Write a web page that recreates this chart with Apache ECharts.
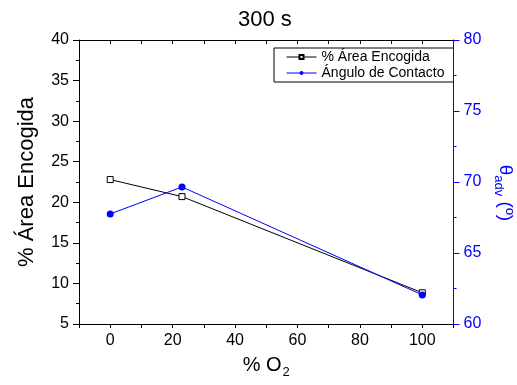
<!DOCTYPE html>
<html><head><meta charset="utf-8">
<script src="https://cdn.jsdelivr.net/npm/echarts@6/dist/echarts.min.js"></script>
<style>html,body{margin:0;padding:0;background:#fff}#c{width:517px;height:385px}</style>
</head><body><div id="c"></div>
<script>
// ---- data ----
const oxygenPct = [0, 23, 100];
const areaShrunk = [22.8, 20.7, 8.85];
const contactAngle = [67.75, 69.65, 62.05];
const xRange = [-10, 110];
const xLabelStep = 20;
const leftRange = [5, 40];
const rightRange = [60, 80];
const seriesNames = ['% Área Encogida', 'Ángulo de Contacto'];

// ---- layout ----
const FONT = "'Liberation Sans', Arial, Helvetica, sans-serif";
const L = 79, R = 453.5, T = 40, B = 324, CW = 517, CH = 385;
const BLUE = '#0000ff';

const chart = echarts.init(document.getElementById('c'), null, {renderer: 'canvas'});
chart.setOption({
  animation: false,
  backgroundColor: '#fff',
  textStyle: {fontFamily: FONT},
  title: {
    text: '300 s', left: 238, top: 9, padding: 0,
    textStyle: {fontSize: 22, fontWeight: 'normal', color: '#000', fontFamily: FONT}
  },
  legend: {
    orient: 'vertical', right: CW - R, top: 48,
    padding: [2, 9, 2, 12], itemGap: 2, itemWidth: 30, itemHeight: 5,
    borderColor: '#000', borderWidth: 1, backgroundColor: '#fff',
    lineStyle: {width: 1},
    textStyle: {fontSize: 14, color: '#000', fontFamily: FONT},
    data: seriesNames
  },
  grid: {left: L, right: CW - R, top: T, bottom: CH - B, outerBoundsMode: 'none'},
  graphic: [
    {type: 'rect', z: 100, silent: true,
     shape: {x: L + 0.5, y: T + 0.5, width: Math.round(R - L) - 1, height: B - T},
     style: {fill: 'none', stroke: '#000', lineWidth: 1}},
    {type: 'line', z: 101, silent: true,
     shape: {x1: Math.round(R) - 0.5, y1: T, x2: Math.round(R) - 0.5, y2: B + 1},
     style: {stroke: BLUE, lineWidth: 1}}
  ],
  xAxis: [
    {
      type: 'value', min: xRange[0], max: xRange[1], interval: 10, position: 'bottom',
      splitLine: {show: false},
      axisLine: {show: true, onZero: false, lineStyle: {color: '#000', width: 1}},
      axisTick: {show: true, length: 4, lineStyle: {color: '#000'}},
      axisLabel: {fontSize: 16, color: '#000', margin: 9, fontFamily: FONT,
        formatter: v => (v % xLabelStep === 0 ? String(v) : '')},
      name: '% O{sub|2}', nameLocation: 'middle', nameGap: 28,
      nameTextStyle: {fontSize: 20, color: '#000', fontFamily: FONT,
        rich: {sub: {fontSize: 13, color: '#000', fontFamily: FONT, padding: [14, 0, 0, 1]}}}
    },
    {
      type: 'value', min: xRange[0], max: xRange[1], interval: 10, position: 'top',
      splitLine: {show: false},
      axisLine: {show: true, onZero: false, lineStyle: {color: '#000', width: 1}},
      axisTick: {show: true, inside: true, length: 4, lineStyle: {color: '#000'}},
      axisLabel: {show: false}
    }
  ],
  yAxis: [
    {
      type: 'value', position: 'left', min: leftRange[0], max: leftRange[1], interval: 5,
      splitLine: {show: false},
      axisLine: {show: true, onZero: false, lineStyle: {color: '#000', width: 1}},
      axisTick: {show: true, length: 6, lineStyle: {color: '#000'}},
      minorTick: {show: true, splitNumber: 2, length: 3, lineStyle: {color: '#000'}},
      axisLabel: {fontSize: 16, color: '#000', margin: 10, fontFamily: FONT},
      name: seriesNames[0], nameLocation: 'middle', nameGap: 41,
      nameTextStyle: {fontSize: 22, color: '#000', fontFamily: FONT}
    },
    {
      type: 'value', position: 'right', min: rightRange[0], max: rightRange[1], interval: 5,
      splitLine: {show: false},
      axisLine: {show: true, onZero: false, lineStyle: {color: BLUE, width: 1}},
      axisTick: {show: true, length: 6, lineStyle: {color: BLUE}},
      minorTick: {show: true, splitNumber: 2, length: 3, lineStyle: {color: BLUE}},
      axisLabel: {fontSize: 16, color: BLUE, margin: 10, fontFamily: FONT},
      name: '{t|θ}{sub|adv}{t| (º)}', nameLocation: 'middle', nameGap: 39, nameRotate: -90,
      nameTextStyle: {color: BLUE, fontFamily: FONT, padding: [0, 0, 0, 22],
        rich: {
          t: {fontSize: 19, color: BLUE, fontFamily: FONT},
          sub: {fontSize: 13, color: BLUE, fontFamily: FONT, padding: [12, 0, 0, 0]}
        }}
    }
  ],
  series: [
    {
      name: seriesNames[0], type: 'line', xAxisIndex: 0, yAxisIndex: 0,
      data: oxygenPct.map((x, i) => [x, areaShrunk[i]]),
      symbol: 'rect', symbolSize: 6,
      lineStyle: {color: '#000', width: 1},
      itemStyle: {color: '#fff', borderColor: '#000', borderWidth: 1},
      z: 2
    },
    {
      name: seriesNames[1], type: 'line', xAxisIndex: 0, yAxisIndex: 1,
      data: oxygenPct.map((x, i) => [x, contactAngle[i]]),
      symbol: 'circle', symbolSize: 7,
      lineStyle: {color: BLUE, width: 1},
      itemStyle: {color: BLUE, borderColor: BLUE, borderWidth: 0},
      z: 3
    }
  ]
});
</script></body></html>
